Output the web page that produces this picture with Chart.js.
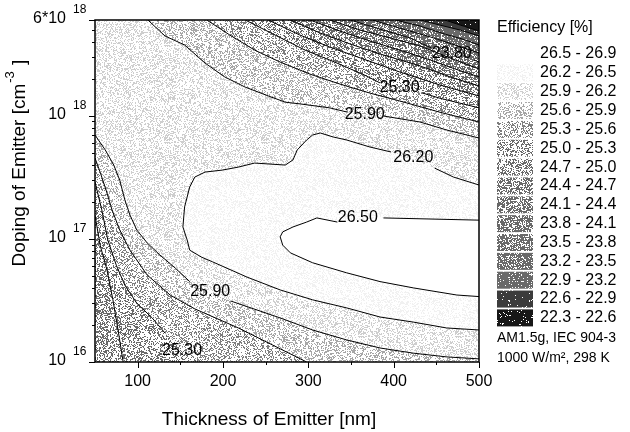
<!DOCTYPE html>
<html>
<head>
<meta charset="utf-8">
<script src="https://cdn.jsdelivr.net/npm/chart.js@4.4.0/dist/chart.umd.min.js"></script>
<style>
  html, body { margin: 0; padding: 0; background: #fff; }
  canvas { display: block; }
</style>
</head>
<body>
<canvas id="contourChart" width="630" height="432"></canvas>
<script>
// contour lines as [thickness (nm), doping (cm^-3)]; null leaves a gap for the line label
const c226 = [[460, 6.0e18], [478, 5.46e18], [500, 4.88e18]];
const c229 = [[431, 6.0e18], [454, 5.46e18], [478, 4.97e18], [500, 4.45e18]];
const c232 = [[402, 6.0e18], [431, 5.36e18], [460, 4.61e18], [484, 4.13e18], [500, 3.76e18]];
const c235 = [[375, 6.0e18], [407, 5.16e18], [443, 4.37e18], [472, 3.76e18], [500, 3.24e18]];
const c238 = [[349, 6.0e18], [384, 5.06e18], [419, 4.29e18], [444, 3.56e18], null, [494, 2.84e18], [500, 2.73e18]];
const c241 = [[325, 6.0e18], [361, 4.97e18], [396, 4.29e18], [431, 3.69e18], [466, 2.95e18], [500, 2.40e18]];
const c244 = [[302, 6.0e18], [337, 4.88e18], [372, 4.05e18], [407, 3.42e18], [443, 2.84e18], [472, 2.40e18], [500, 2.07e18]];
const c247 = [[279, 6.0e18], [314, 4.70e18], [349, 3.83e18], [384, 3.18e18], [431, 2.54e18], [466, 2.07e18], [500, 1.75e18]];
const c250 = [[253, 6.0e18], [290, 4.53e18], [325, 3.62e18], [361, 2.95e18], [407, 2.27e18], [454, 1.78e18], [500, 1.45e18]];
const c253 = [[226, 6.0e18], [261, 4.53e18], [296, 3.42e18], [331, 2.73e18], [366, 2.14e18], [384, 1.85e18], null,
              [434, 1.53e18], [454, 1.39e18], [500, 1.16e18]];
const c256 = [[181, 6.0e18], [208, 4.53e18], [237, 3.42e18], [267, 2.73e18], [302, 2.18e18], [337, 1.81e18],
              [372, 1.53e18], [407, 1.32e18], [454, 1.07e18], [500, 8.9e17]];
const c259 = [[112, 6.0e18], [132, 4.45e18], [155, 3.76e18], [179, 2.68e18], [202, 2.07e18], [226, 1.71e18],
              [253, 1.45e18], [273, 1.29e18], [290, 1.25e18], [325, 1.16e18], [346, 1.07e18], null,
              [388, 9.96e17], [431, 8.9e17], [462, 7.67e17], [500, 6.6e17]];

// lower-left branches
const c250low = [[50, 1.56e17], [56, 8.9e16], [64, 5.6e16], [71, 3.2e16], [77, 1.82e16], [83, 1.0e16]];
const c253low = [[50, 2.9e17], [58, 1.72e17], [65, 9.8e16], [75, 6.1e16], [85, 4.2e16], [99, 3.0e16],
                 [117, 2.28e16], [132, 1.72e16], null, [173, 1.0e16]];
const c256low = [[50, 4.54e17], [56, 3.49e17], [63, 2.49e17], [70, 1.72e17], [79, 1.18e17], [91, 8.1e16],
                 [111, 5.1e16], [138, 3.5e16], [167, 2.7e16], [218, 1.89e16], [267, 1.28e16], [298, 1.0e16]];
const c259low = [[50, 6.98e17], [62, 5.28e17], [72, 3.98e17], [79, 3.0e17], [85, 2.07e17], [91, 1.56e17],
                 [99, 1.18e17], [111, 9.3e16], [126, 7.4e16], [144, 5.8e16], [161, 4.5e16], null,
                 [209, 3.13e16], [267, 2.28e16], [305, 1.82e16], [345, 1.51e16], [384, 1.30e16],
                 [423, 1.18e16], [462, 1.10e16], [500, 1.06e16]];

// the two closed islands around the maximum
const c262 = [[500, 2.74e17], [470, 3.18e17], [448, 3.76e17], null, [397, 5.08e17], [372, 5.58e17],
              [345, 6.36e17], [329, 6.73e17], [314, 7.25e17], [305, 6.98e17], [298, 6.36e17], [287, 5.28e17],
              [282, 4.38e17], [273, 3.98e17], [237, 4.13e17], [218, 3.83e17], [199, 3.62e17], [179, 3.49e17],
              [167, 3.18e17], [161, 2.64e17], [155, 1.82e17], [153, 1.25e17], [158, 9.8e16], [161, 8.1e16],
              [175, 7.1e16], [188, 6.5e16], [228, 4.9e16], [267, 3.85e16], [305, 3.2e16], [345, 2.75e16],
              [384, 2.32e16], [423, 2.11e16], [462, 1.89e16], [500, 1.82e16]];
const c265 = [[500, 1.42e17], [388, 1.48e17], null, [334, 1.37e17], [310, 1.48e17], [298, 1.37e17],
              [282, 1.25e17], [270, 1.14e17], [267, 1.04e17], [270, 8.9e16], [279, 7.7e16], [305, 6.4e16],
              [345, 5.3e16], [384, 4.5e16], [423, 4.0e16], [474, 3.5e16], [500, 3.4e16]];

const levels = [22.6, 22.9, 23.2, 23.5, 23.8, 24.1, 24.4, 24.7, 25.0, 25.3, 25.6, 25.9, 26.2, 26.5];
const bandLabels = ["26.5 - 26.9", "26.2 - 26.5", "25.9 - 26.2", "25.6 - 25.9", "25.3 - 25.6",
                    "25.0 - 25.3", "24.7 - 25.0", "24.4 - 24.7", "24.1 - 24.4", "23.8 - 24.1",
                    "23.5 - 23.8", "23.2 - 23.5", "22.9 - 23.2", "22.6 - 22.9", "22.3 - 22.6"];

const contourLabels = [
  { text: "23.80", t: 468, n: 3.18e18 },
  { text: "25.30", t: 407, n: 1.68e18 },
  { text: "25.90", t: 366, n: 1.03e18 },
  { text: "26.20", t: 423, n: 4.54e17 },
  { text: "26.50", t: 358, n: 1.48e17 },
  { text: "25.90", t: 185, n: 3.7e16 },
  { text: "25.30", t: 152, n: 1.23e16 }
];

const xTickValues = [100, 200, 300, 400, 500];
const xTickLabels = ["100", "200", "300", "400", "500"];
const yTickValues = [1e16, 1e17, 1e18, 6e18];
const yTickBase = ["10", "10", "10", "6*10"];
const yTickExp = ["16", "17", "18", "18"];

const xMin = 50, xMax = 500, yMin = 1e16, yMax = 6e18;

// one entry per level, lowest first
const contours = [
  { level: 22.6, upper: c226 },
  { level: 22.9, upper: c229 },
  { level: 23.2, upper: c232 },
  { level: 23.5, upper: c235 },
  { level: 23.8, upper: c238 },
  { level: 24.1, upper: c241 },
  { level: 24.4, upper: c244 },
  { level: 24.7, upper: c247 },
  { level: 25.0, upper: c250, lower: c250low },
  { level: 25.3, upper: c253, lower: c253low },
  { level: 25.6, upper: c256, lower: c256low },
  { level: 25.9, upper: c259, lower: c259low },
  { level: 26.2, closed: c262 },
  { level: 26.5, closed: c265 }
];

// mean grey of each band's stipple, lowest band first
const bandGrey = [35, 70, 120, 140, 150, 156, 165, 175, 186, 197, 210, 224, 238, 250, 255];

const FONT = '"Liberation Sans", Arial, Helvetica, sans-serif';

function hash(x, y, s) {
  let h = Math.imul(x, 374761393) + Math.imul(y, 668265263) + Math.imul(s + 1, 1274126177);
  h = Math.imul(h ^ (h >>> 13), 1274126177);
  h = h ^ (h >>> 16);
  return (h >>> 0) / 4294967296;
}

// fine speckle: a share of pixels gets a grey tone so that the mean matches the band grey
function makePattern(ctx, grey, seed) {
  const size = 97;
  const c = document.createElement("canvas");
  c.width = size; c.height = size;
  const g = c.getContext("2d");
  const img = g.createImageData(size, size);
  const p = Math.min(0.95, Math.max(0.35, (255 - grey) / 150));
  const dot = Math.max(0, 255 - (255 - grey) / p);
  for (let yy = 0; yy < size; yy++) {
    for (let xx = 0; xx < size; xx++) {
      const k = (yy * size + xx) * 4;
      const v = hash(xx, yy, seed) < p ? dot : 255;
      img.data[k] = v; img.data[k + 1] = v; img.data[k + 2] = v; img.data[k + 3] = 255;
    }
  }
  g.putImageData(img, 0, 0);
  return ctx.createPattern(c, "repeat");
}

function clean(arr) {
  return arr.filter(p => p);
}

function regionPoints(c) {
  if (c.closed) return clean(c.closed);
  let pts = clean(c.upper);
  if (c.lower) {
    const low = clean(c.lower);
    const end = low[low.length - 1];
    if (end[1] <= yMin * 1.0001) pts.push([xMax, yMin]);
    pts = pts.concat(low.slice().reverse());
  } else {
    pts.push([xMax, yMin], [xMin, yMin]);
  }
  pts.push([xMin, yMax]);
  return pts;
}

const canvas = document.getElementById("contourChart");
const mainCtx = canvas.getContext("2d");
const patterns = bandGrey.map((g, i) => makePattern(mainCtx, g, i));

const contourFill = {
  id: "contourFill",
  beforeDatasetsDraw(chart) {
    const { ctx, chartArea: a, scales: { x, y } } = chart;
    ctx.save();
    ctx.beginPath();
    ctx.rect(a.left, a.top, a.right - a.left, a.bottom - a.top);
    ctx.clip();
    ctx.fillStyle = patterns[0];
    ctx.fillRect(a.left, a.top, a.right - a.left, a.bottom - a.top);
    contours.forEach((c, i) => {
      const pts = regionPoints(c);
      ctx.beginPath();
      pts.forEach((p, k) => {
        const px = x.getPixelForValue(p[0]);
        const py = y.getPixelForValue(p[1]);
        if (k) ctx.lineTo(px, py); else ctx.moveTo(px, py);
      });
      ctx.closePath();
      ctx.fillStyle = patterns[i + 1];
      ctx.fill();
    });
    ctx.restore();
  }
};

const decorations = {
  id: "decorations",
  afterDraw(chart) {
    const { ctx, chartArea: a, scales: { x, y } } = chart;
    ctx.save();
    ctx.fillStyle = "#000";
    ctx.strokeStyle = "#000";

    // labels on the contour lines
    ctx.font = "16px " + FONT;
    ctx.textAlign = "center";
    ctx.textBaseline = "middle";
    contourLabels.forEach(l => {
      ctx.fillText(l.text, x.getPixelForValue(l.t), y.getPixelForValue(l.n));
    });

    // frame
    ctx.lineWidth = 1.5;
    ctx.strokeRect(a.left, a.top, a.right - a.left, a.bottom - a.top);

    // ticks
    ctx.lineWidth = 1;
    ctx.beginPath();
    for (let v = 100; v <= 500; v += 50) {
      const px = Math.round(x.getPixelForValue(v)) + 0.5;
      const len = v % 100 === 0 ? 6 : 3;
      ctx.moveTo(px, a.bottom);
      ctx.lineTo(px, a.bottom + len);
    }
    for (let e = 16; e <= 18; e++) {
      for (let m = 1; m <= 9; m++) {
        const v = m * Math.pow(10, e);
        if (v > yMax * 1.0001) break;
        const py = Math.round(y.getPixelForValue(v)) + 0.5;
        const major = m === 1 || Math.abs(v - yMax) < 1e15;
        ctx.moveTo(a.left, py);
        ctx.lineTo(a.left - (major ? 6 : 3), py);
      }
    }
    ctx.stroke();

    // x tick labels
    ctx.font = "16px " + FONT;
    ctx.textAlign = "center";
    ctx.textBaseline = "middle";
    xTickValues.forEach((v, i) => {
      ctx.fillText(xTickLabels[i], x.getPixelForValue(v), 382);
    });

    // y tick labels, 10 with raised exponent
    yTickValues.forEach((v, i) => {
      const py = y.getPixelForValue(v) - 1;
      ctx.font = "16px " + FONT;
      ctx.textAlign = "right";
      ctx.fillText(yTickBase[i], 66, py);
      ctx.font = "12px " + FONT;
      ctx.textAlign = "left";
      ctx.fillText(yTickExp[i], 73, py - 9);
    });

    // axis titles
    ctx.font = "19px " + FONT;
    ctx.textAlign = "center";
    ctx.fillText("Thickness of Emitter [nm]", 269, 420);

    ctx.translate(20, 163);
    ctx.rotate(-Math.PI / 2);
    ctx.textAlign = "left";
    ctx.font = "19px " + FONT;
    const t1 = "Doping of Emitter [cm";
    const t3 = " ]";
    const w1 = ctx.measureText(t1).width;
    const w3 = ctx.measureText(t3).width;
    ctx.font = "13px " + FONT;
    const w2 = ctx.measureText("-3").width;
    const start = -(w1 + w2 + w3 + 2) / 2;
    ctx.font = "19px " + FONT;
    ctx.fillText(t1, start, 0);
    ctx.fillText(t3, start + w1 + w2 + 2, 0);
    ctx.font = "13px " + FONT;
    ctx.fillText("-3", start + w1 + 1, -10);
    ctx.setTransform(1, 0, 0, 1, 0, 0);

    // legend
    ctx.font = "16px " + FONT;
    ctx.textAlign = "left";
    ctx.textBaseline = "middle";
    ctx.fillText("Efficiency [%]", 497, 28);
    bandLabels.forEach((label, i) => {
      const yc = 54 + i * 18.85;
      ctx.fillStyle = patterns[bandLabels.length - 1 - i];
      ctx.fillRect(497, yc - 8.5, 36, 17);
      ctx.fillStyle = "#000";
      ctx.fillText(label, 540, yc);
    });
    ctx.font = "14px " + FONT;
    ctx.fillText("AM1.5g, IEC 904-3", 497, 338);
    ctx.fillText("1000 W/m\u00B2, 298 K", 497, 358);
    ctx.restore();
  }
};

function toPoints(arr) {
  return arr.map(p => (p ? { x: p[0], y: p[1] } : { x: null, y: null }));
}

const lineSets = [];
contours.forEach(c => {
  [c.upper, c.lower, c.closed].forEach(arr => {
    if (!arr) return;
    lineSets.push({
      label: String(c.level),
      data: toPoints(arr),
      showLine: true,
      borderColor: "#000",
      borderWidth: 1,
      pointRadius: 0,
      fill: false,
      spanGaps: false
    });
  });
});

new Chart(mainCtx, {
  type: "scatter",
  data: { datasets: lineSets },
  options: {
    responsive: false,
    animation: false,
    layout: { padding: { left: 95, right: 151, top: 20, bottom: 70 } },
    plugins: { legend: { display: false }, tooltip: { enabled: false } },
    scales: {
      x: { type: "linear", min: xMin, max: xMax, display: false },
      y: { type: "logarithmic", min: yMin, max: yMax, display: false }
    }
  },
  plugins: [contourFill, decorations]
});
</script>
</body>
</html>
